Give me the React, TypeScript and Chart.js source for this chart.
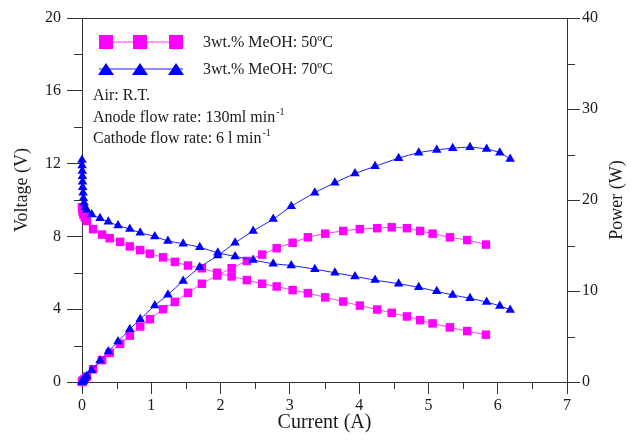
import React, { useEffect, useRef } from 'react';
import { Chart, registerables } from 'chart.js';

Chart.register(...registerables);

// ---- data ----
const current50 = [0, 0.005, 0.01, 0.02, 0.04, 0.07, 0.16, 0.29, 0.4, 0.55, 0.69, 0.84, 0.98, 1.17, 1.34, 1.53, 1.73, 1.95, 2.16, 2.38, 2.6, 2.81, 3.04, 3.26, 3.51, 3.77, 4.01, 4.26, 4.47, 4.69, 4.88, 5.06, 5.31, 5.56, 5.83];
const voltage50 = [9.6, 9.5, 9.35, 9.2, 9.05, 8.85, 8.4, 8.1, 7.9, 7.7, 7.45, 7.25, 7.05, 6.85, 6.6, 6.4, 6.25, 6.0, 5.8, 5.6, 5.4, 5.25, 5.05, 4.88, 4.65, 4.42, 4.2, 3.98, 3.8, 3.6, 3.4, 3.22, 3.0, 2.8, 2.6];
const power50 = [0, 0.05, 0.1, 0.2, 0.35, 0.6, 1.4, 2.4, 3.2, 4.2, 5.1, 6.1, 6.9, 8.0, 8.8, 9.8, 10.8, 11.7, 12.5, 13.3, 14.0, 14.7, 15.3, 15.9, 16.3, 16.6, 16.8, 16.9, 17.0, 16.9, 16.6, 16.3, 15.9, 15.6, 15.1];

const current70 = [0, 0.002, 0.004, 0.006, 0.008, 0.01, 0.015, 0.02, 0.03, 0.045, 0.07, 0.14, 0.26, 0.38, 0.52, 0.69, 0.84, 1.05, 1.24, 1.46, 1.7, 1.96, 2.21, 2.47, 2.76, 3.02, 3.36, 3.65, 3.94, 4.23, 4.57, 4.86, 5.12, 5.35, 5.6, 5.84, 6.03, 6.18];
const voltage70 = [12.2, 11.9, 11.6, 11.3, 11.0, 10.7, 10.4, 10.1, 9.85, 9.6, 9.45, 9.2, 9.0, 8.8, 8.6, 8.4, 8.2, 8.0, 7.75, 7.6, 7.4, 7.1, 6.9, 6.7, 6.5, 6.4, 6.2, 6.0, 5.8, 5.6, 5.4, 5.2, 4.98, 4.78, 4.6, 4.39, 4.18, 3.96];
const power70 = [0, 0.02, 0.05, 0.07, 0.09, 0.11, 0.16, 0.2, 0.3, 0.43, 0.65, 1.3, 2.35, 3.35, 4.45, 5.8, 6.9, 8.4, 9.6, 11.1, 12.6, 13.9, 15.3, 16.6, 17.9, 19.3, 20.8, 21.9, 22.9, 23.7, 24.6, 25.2, 25.5, 25.7, 25.8, 25.6, 25.2, 24.5];

const xMinorTicks = [0.5, 1.5, 2.5, 3.5, 4.5, 5.5, 6.5];
const voltageMinorTicks = [2, 6, 10, 14, 18];
const powerMinorTicks = [5, 15, 25, 35];

const xTitle = 'Current (A)';
const voltageTitle = 'Voltage (V)';
const powerTitle = 'Power (W)';
const legendLabels = ['3wt.% MeOH: 50ºC', '3wt.% MeOH: 70ºC'];
const noteLines = [
  { text: 'Air: R.T.', sup: '' },
  { text: 'Anode flow rate: 130ml min', sup: '-1' },
  { text: 'Cathode flow rate: 6 l min', sup: '-1' },
];

const MAGENTA = '#ff00ff';
const MAGENTA_LINE = '#ff33ff';
const BLUE = '#0000ff';
const BLUE_LINE = '#1a1aff';
const AXIS = '#333333';
const TEXT = '#1a1a1a';
const FONT = "'Liberation Serif', 'Times New Roman', serif";

const W = 619;
const H = 425;

const toXY = (xs: number[], ys: number[]) => xs.map((x, i) => ({ x, y: ys[i] }));

function drawSquare(ctx: CanvasRenderingContext2D, x: number, y: number, s: number, color: string) {
  ctx.fillStyle = color;
  ctx.fillRect(x - s / 2, y - s / 2, s, s);
}
function drawTriangle(ctx: CanvasRenderingContext2D, x: number, y: number, w: number, h: number, color: string) {
  ctx.fillStyle = color;
  ctx.beginPath();
  ctx.moveTo(x, y - h / 2);
  ctx.lineTo(x + w / 2, y + h / 2);
  ctx.lineTo(x - w / 2, y + h / 2);
  ctx.closePath();
  ctx.fill();
}

const framePlugin = {
  id: 'frameAndNotes',
  afterDraw(chart: any) {
    const { ctx, chartArea, scales } = chart;
    const { left, right, top, bottom } = chartArea;
    ctx.save();
    ctx.strokeStyle = AXIS;
    ctx.lineWidth = 1;
    ctx.beginPath();
    ctx.moveTo(left, Math.round(top) + 0.5);
    ctx.lineTo(right, Math.round(top) + 0.5);
    // minor ticks
    xMinorTicks.forEach((v) => {
      const px = Math.round(scales.x.getPixelForValue(v)) + 0.5;
      ctx.moveTo(px, bottom);
      ctx.lineTo(px, bottom + 7);
    });
    voltageMinorTicks.forEach((v) => {
      const py = Math.round(scales.y.getPixelForValue(v)) + 0.5;
      ctx.moveTo(left - 8, py);
      ctx.lineTo(left, py);
    });
    powerMinorTicks.forEach((v) => {
      const py = Math.round(scales.y1.getPixelForValue(v)) + 0.5;
      ctx.moveTo(right, py);
      ctx.lineTo(right + 8, py);
    });
    ctx.stroke();

    // axis titles
    ctx.fillStyle = TEXT;
    ctx.textAlign = 'center';
    ctx.textBaseline = 'alphabetic';
    ctx.font = `20px ${FONT}`;
    ctx.fillText(xTitle, (left + right) / 2, 420);
    ctx.textBaseline = 'middle';
    ctx.font = `18px ${FONT}`;
    ctx.save();
    ctx.translate(14, 182);
    ctx.rotate(-Math.PI / 2);
    ctx.fillText(voltageTitle, 0, 0);
    ctx.restore();
    ctx.save();
    ctx.translate(609, 192);
    ctx.rotate(-Math.PI / 2);
    ctx.fillText(powerTitle, 0, 0);
    ctx.restore();

    // legend
    const rows = [
      { y: 34, color: MAGENTA, line: MAGENTA_LINE, kind: 'square' },
      { y: 61, color: BLUE, line: BLUE_LINE, kind: 'tri' },
    ];
    rows.forEach((r, i) => {
      ctx.strokeStyle = r.line;
      ctx.lineWidth = 1.2;
      ctx.beginPath();
      ctx.moveTo(91, r.y);
      ctx.lineTo(175, r.y);
      ctx.stroke();
      [98, 132, 168].forEach((mx) => {
        if (r.kind === 'square') drawSquare(ctx, mx, r.y, 14, r.color);
        else drawTriangle(ctx, mx, r.y, 16, 12, r.color);
      });
      ctx.fillStyle = TEXT;
      ctx.font = `16px ${FONT}`;
      ctx.textAlign = 'left';
      ctx.textBaseline = 'middle';
      ctx.fillText(legendLabels[i], 195, r.y + 1);
    });

    // notes
    const noteY = [88, 110, 131];
    noteLines.forEach((n, i) => {
      ctx.fillStyle = TEXT;
      ctx.font = `16px ${FONT}`;
      ctx.textAlign = 'left';
      ctx.textBaseline = 'middle';
      ctx.fillText(n.text, 85, noteY[i]);
      if (n.sup) {
        const w = ctx.measureText(n.text).width;
        ctx.font = `10px ${FONT}`;
        ctx.fillText(n.sup, 85 + w + 1, noteY[i] - 6);
      }
    });
    ctx.restore();
  },
};

const noPad = (s: any) => {
  s.paddingTop = 0;
  s.paddingBottom = 0;
};

export default function App() {
  const ref = useRef<HTMLCanvasElement | null>(null);

  useEffect(() => {
    if (!ref.current) return;
    const common = {
      borderWidth: 1,
      pointBorderWidth: 0,
      tension: 0.25,
      clip: false as any,
      fill: false,
    };
    const chart = new Chart(ref.current, {
      type: 'line',
      data: {
        datasets: [
          {
            ...common,
            label: 'Voltage 70',
            data: toXY(current70, voltage70),
            yAxisID: 'y',
            borderColor: BLUE_LINE,
            backgroundColor: BLUE,
            pointBackgroundColor: BLUE,
            pointBorderColor: BLUE,
            pointStyle: 'triangle',
            pointRadius: 5.5,
          },
          {
            ...common,
            label: 'Power 70',
            data: toXY(current70, power70),
            yAxisID: 'y1',
            borderColor: BLUE_LINE,
            backgroundColor: BLUE,
            pointBackgroundColor: BLUE,
            pointBorderColor: BLUE,
            pointStyle: 'triangle',
            pointRadius: 5.5,
          },
          {
            ...common,
            label: 'Voltage 50',
            data: toXY(current50, voltage50),
            yAxisID: 'y',
            borderColor: MAGENTA_LINE,
            backgroundColor: MAGENTA,
            pointBackgroundColor: MAGENTA,
            pointBorderColor: MAGENTA,
            pointStyle: 'rect',
            pointRadius: 6,
          },
          {
            ...common,
            label: 'Power 50',
            data: toXY(current50, power50),
            yAxisID: 'y1',
            borderColor: MAGENTA_LINE,
            backgroundColor: MAGENTA,
            pointBackgroundColor: MAGENTA,
            pointBorderColor: MAGENTA,
            pointStyle: 'rect',
            pointRadius: 6,
          },
        ],
      },
      options: {
        animation: false,
        responsive: false,
        devicePixelRatio: 1,
        layout: { padding: { top: 10, left: 0, right: 0, bottom: 0 } },
        plugins: { legend: { display: false }, tooltip: { enabled: false } },
        scales: {
          x: {
            type: 'linear',
            min: 0,
            max: 7,
            ticks: { stepSize: 1, color: TEXT, font: { family: FONT, size: 16 }, padding: 2 },
            grid: { drawOnChartArea: false, drawTicks: true, tickLength: 12, color: AXIS, tickColor: AXIS },
            border: { display: true, color: AXIS, width: 1 },
            title: { display: false },
            afterFit: (s: any) => { s.height = H - 374; s.paddingLeft = 0; s.paddingRight = 0; },
          },
          y: {
            type: 'linear',
            position: 'left',
            min: 0,
            max: 20,
            ticks: { stepSize: 4, color: TEXT, font: { family: FONT, size: 16 }, padding: 6 },
            grid: { drawOnChartArea: false, drawTicks: true, tickLength: 15, color: AXIS, tickColor: AXIS },
            border: { display: true, color: AXIS, width: 1 },
            title: { display: false },
            afterFit: (s: any) => { s.width = 74; noPad(s); },
          },
          y1: {
            type: 'linear',
            position: 'right',
            min: 0,
            max: 40,
            ticks: { stepSize: 10, color: TEXT, font: { family: FONT, size: 16 }, padding: 2 },
            grid: { drawOnChartArea: false, drawTicks: true, tickLength: 13, color: AXIS, tickColor: AXIS },
            border: { display: true, color: AXIS, width: 1 },
            title: { display: false },
            afterFit: (s: any) => { s.width = 60; noPad(s); },
          },
        },
      } as any,
      plugins: [framePlugin],
    });
    return () => chart.destroy();
  }, []);

  return (
    <div style={{ width: W, height: H }}>
      <canvas ref={ref} width={W} height={H} style={{ display: 'block', width: W, height: H }} />
    </div>
  );
}
